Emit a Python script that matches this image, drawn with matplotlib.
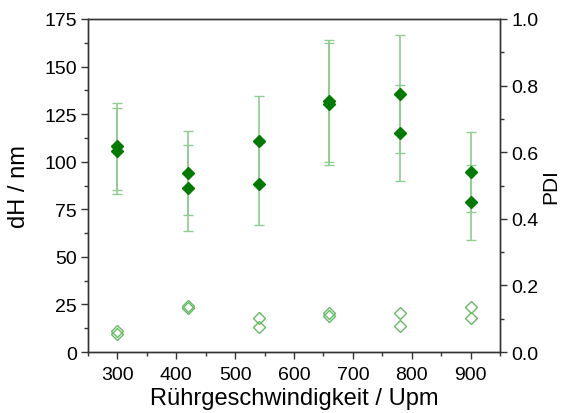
import matplotlib.pyplot as plt
from matplotlib.ticker import MultipleLocator

plt.rcParams["font.family"] = ["Liberation Sans", "DejaVu Sans"]

speed = [300, 420, 540, 660, 780, 900]

# two measurement series, hydrodynamic diameter (nm) with standard deviation
dh_a = [108.0, 94.0, 110.7, 132.0, 135.6, 94.7]
dh_a_err = [23.0, 22.0, 23.7, 32.0, 31.0, 21.0]
dh_b = [105.5, 86.3, 88.3, 130.3, 115.1, 78.6]
dh_b_err = [22.5, 22.6, 21.6, 32.0, 25.3, 19.5]

# polydispersity index
pdi_a = [0.064, 0.137, 0.101, 0.116, 0.116, 0.134]
pdi_b = [0.054, 0.131, 0.074, 0.109, 0.079, 0.102]

fig = plt.figure(figsize=(5.62, 4.14), dpi=100)
ax = fig.add_axes([0.1566, 0.1473, 0.7331, 0.8044])
ax2 = ax.twinx()

err_color = "#8fcc8f"
for y, e in [(dh_a, dh_a_err), (dh_b, dh_b_err)]:
    ax.errorbar(speed, y, yerr=e, fmt="D", color="#007a00", ms=6.5,
                ecolor=err_color, elinewidth=1.2, capsize=3.5, capthick=1.0, zorder=3)

for p in [pdi_a, pdi_b]:
    ax2.plot(speed, p, "D", mfc="none", mec="#66bb66", ms=6.5, mew=1.0)

ax.set_xlim(250, 950)
ax.set_ylim(0, 175)
ax2.set_ylim(0, 1.0)

ax.xaxis.set_major_locator(MultipleLocator(100))
ax.xaxis.set_minor_locator(MultipleLocator(50))
ax.yaxis.set_major_locator(MultipleLocator(25))
ax.yaxis.set_minor_locator(MultipleLocator(12.5))
ax2.yaxis.set_major_locator(MultipleLocator(0.2))
ax2.yaxis.set_minor_locator(MultipleLocator(0.1))
ax2.yaxis.set_major_formatter(plt.FormatStrFormatter("%.1f"))

for a in (ax, ax2):
    for s in a.spines.values():
        s.set_color("#333333")
        s.set_linewidth(1.0)
    a.tick_params(which="major", length=5, width=1.0, color="#333333", labelsize=14, pad=3)
    a.tick_params(which="minor", length=3, width=1.0, color="#333333")

ax.tick_params(axis="x", pad=5)
ax.tick_params(top=False, right=False, which="both")
ax.set_xlabel("Rührgeschwindigkeit / Upm", fontsize=17, labelpad=3)
ax.set_ylabel("dH / nm", fontsize=17, labelpad=10)
ax2.set_ylabel("PDI", fontsize=15, labelpad=2)

fig.savefig("out.png", dpi=100)
